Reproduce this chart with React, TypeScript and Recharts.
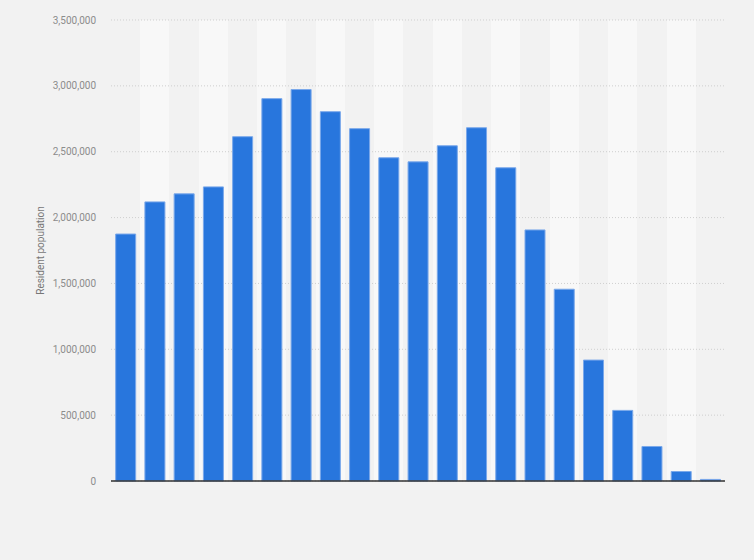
import React from 'react';
import { BarChart, Bar, XAxis, YAxis, CartesianGrid } from 'recharts';

const ageGroups = ['0-4', '5-9', '10-14', '15-19', '20-24', '25-29', '30-34', '35-39', '40-44', '45-49', '50-54', '55-59', '60-64', '65-69', '70-74', '75-79', '80-84', '85-89', '90-94', '95-99', '100+'];
const population = [1875000, 2119000, 2180000, 2233000, 2614000, 2903000, 2972000, 2804000, 2675000, 2454000, 2423000, 2545000, 2682000, 2378000, 1906000, 1456000, 918000, 536000, 262000, 72000, 12000];
const yTicks = [0, 500000, 1000000, 1500000, 2000000, 2500000, 3000000, 3500000];

const data = ageGroups.map((g, i) => ({ group: g, value: population[i] }));

const fmt = (v: number) => v.toLocaleString('en-US');

const bandGenerator = (props: any) => {
  const { offset } = props;
  const n = ageGroups.length;
  const pts: number[] = [];
  for (let i = 0; i < n; i++) pts.push(offset.left + (i * offset.width) / n);
  return pts;
};

export default function App() {
  return (
    <div style={{ position: 'absolute', left: 0, top: 0, width: 754, height: 560, background: '#f2f2f2' }}>
      <BarChart width={754} height={560} data={data} margin={{ top: 20, right: 29, bottom: 49, left: 0 }} barCategoryGap="16%">
        <CartesianGrid horizontal={false} vertical={true} stroke="#f2f2f2" strokeOpacity={0} verticalFill={['#f2f2f2', '#f8f8f8']} verticalCoordinatesGenerator={bandGenerator} />
        <CartesianGrid vertical={false} stroke="#cfcfcf" strokeDasharray="1 2" />
        <XAxis dataKey="group" tick={false} tickLine={false} axisLine={{ stroke: '#333333', strokeWidth: 1.5 }} height={30} />
        <YAxis
          width={111}
          domain={[0, 3500000]}
          ticks={yTicks}
          tickFormatter={fmt}
          axisLine={false}
          tickLine={false}
          tickSize={0}
          tickMargin={15}
          tick={{ fill: '#8c8c8c', fontSize: 10, fontFamily: 'Roboto, Arial, sans-serif' }}
          label={{ value: 'Resident population', angle: -90, position: 'center', dx: -15, fill: '#777777', fontSize: 10, fontFamily: 'Roboto, Arial, sans-serif' }}
        />
        <Bar dataKey="value" fill="#2876dd" stroke="#7aa8ea" strokeWidth={1} isAnimationActive={false} />
      </BarChart>
    </div>
  );
}
